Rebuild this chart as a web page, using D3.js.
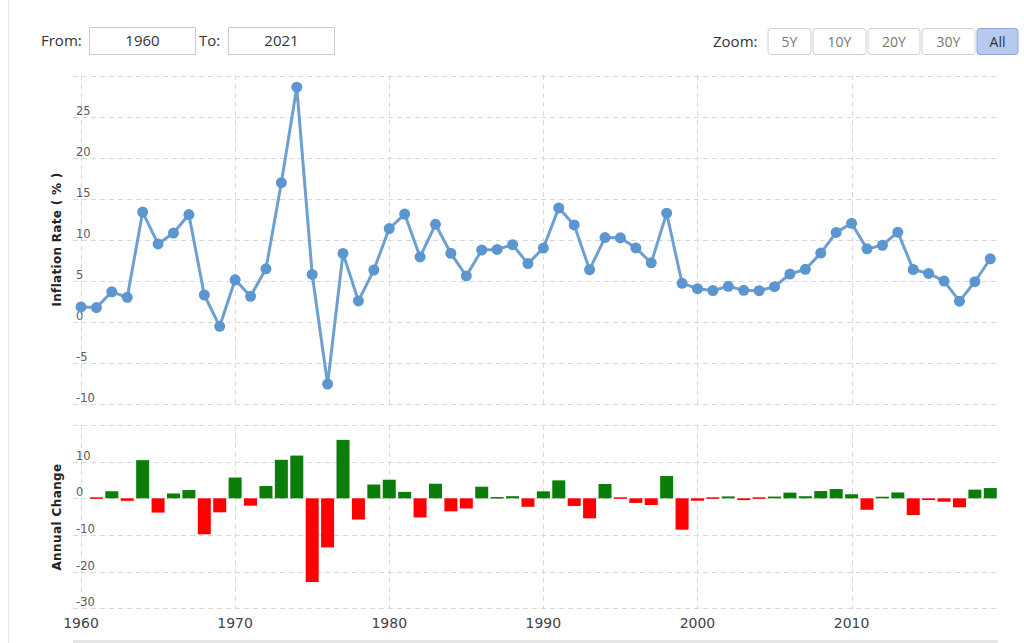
<!DOCTYPE html>
<html>
<head>
<meta charset="utf-8">
<script src="https://cdn.jsdelivr.net/npm/d3@7"></script>
<style>
  body { margin: 0; background: #fff; }
  svg { display: block; }
  .grid line { stroke: #d9d9d9; stroke-dasharray: 5,4; }
  .tick-label { font-family: Verdana, "DejaVu Sans", sans-serif; font-size: 11.5px; fill: #5a5a5a; }
  .x-label { font-family: Verdana, "DejaVu Sans", sans-serif; font-size: 14px; fill: #444; }
  .axis-title { font-family: Verdana, "DejaVu Sans", sans-serif; font-size: 12px; font-weight: bold; fill: #222; }
  .ui { font-family: "Segoe UI", "Open Sans", "Noto Sans", sans-serif; font-size: 15px; fill: #333; }
  .btn { font-family: "Segoe UI", "Open Sans", "Noto Sans", sans-serif; font-size: 14px; fill: #777; }
</style>
</head>
<body>
<svg id="chart" width="1024" height="643"></svg>
<script>
// years shown on the chart
const years = d3.range(1960, 2020);

// inflation rate (%) per year
const inflation = [
  1.78, 1.70, 3.63, 2.95, 13.36, 9.47, 10.80, 13.06, 3.24, -0.58,
  5.09, 3.08, 6.44, 16.94, 28.60, 5.75, -7.63, 8.31, 2.52, 6.28,
  11.35, 13.11, 7.89, 11.87, 8.32, 5.56, 8.73, 8.80, 9.38, 7.07,
  8.97, 13.87, 11.79, 6.33, 10.25, 10.22, 8.98, 7.16, 13.23, 4.67,
  4.01, 3.78, 4.30, 3.81, 3.77, 4.25, 5.80, 6.37, 8.35, 10.88,
  11.99, 8.87, 9.31, 10.91, 6.35, 5.87, 4.94, 2.49, 4.86, 7.66
];

// annual change bars, 1961 onwards
const changeYears = d3.range(1961, 2020);
const annualChange = [
  -0.08, 1.93, -0.68, 10.41, -3.89, 1.33, 2.26, -9.82, -3.82,
  5.67, -2.01, 3.36, 10.50, 11.66, -22.85, -13.38, 15.94, -5.79, 3.76,
  5.07, 1.76, -5.22, 3.98, -3.55, -2.76, 3.17, 0.07, 0.58, -2.31,
  1.90, 4.90, -2.08, -5.46, 3.92, -0.03, -1.24, -1.82, 6.07, -8.56,
  -0.66, -0.23, 0.52, -0.49, -0.04, 0.48, 1.55, 0.57, 1.98, 2.53,
  1.11, -3.12, 0.44, 1.60, -4.56, -0.48, -0.93, -2.45, 2.37, 2.80
];

const topTicks = [-10, -5, 0, 5, 10, 15, 20, 25, 30];
const bottomTicks = [-30, -20, -10, 0, 10, 20];
const xTicks = [1960, 1970, 1980, 1990, 2000, 2010];
const zoomButtons = ["5Y", "10Y", "20Y", "30Y", "All"];

const svg = d3.select("#chart");

const left = 73, right = 998;
const x = d3.scaleLinear().domain([1959.48, 2019.5]).range([left, right]);
const yTop = d3.scaleLinear().domain([-10, 30]).range([403.5, 75.7]);
const yBot = d3.scaleLinear().domain([-30, 20]).range([608.3, 425]);

// faint page border on the left
svg.append("line")
  .attr("x1", 8.5).attr("x2", 8.5).attr("y1", 0).attr("y2", 643)
  .attr("stroke", "#e8e8e8");

// --- top controls ---
const ctrl = svg.append("g");
ctrl.append("text").attr("class", "ui").attr("x", 41).attr("y", 46).text("From:");
ctrl.append("rect").attr("x", 89.5).attr("y", 27.5).attr("width", 106).attr("height", 27)
  .attr("fill", "#fff").attr("stroke", "#ccc");
ctrl.append("text").attr("class", "ui").attr("x", 142.5).attr("y", 46).attr("text-anchor", "middle").text("1960");
ctrl.append("text").attr("class", "ui").attr("x", 199).attr("y", 46).text("To:");
ctrl.append("rect").attr("x", 228.5).attr("y", 27.5).attr("width", 106).attr("height", 27)
  .attr("fill", "#fff").attr("stroke", "#ccc");
ctrl.append("text").attr("class", "ui").attr("x", 281.5).attr("y", 46).attr("text-anchor", "middle").text("2021");

ctrl.append("text").attr("class", "ui").attr("x", 713).attr("y", 47).text("Zoom:");
const btnX = [768, 813, 868, 922, 977];
const btnW = [43, 53, 52, 53, 41];
const btn = ctrl.selectAll("g.btn-g")
  .data(zoomButtons)
  .enter().append("g")
  .attr("class", "btn-g")
  .attr("transform", (d, i) => "translate(" + btnX[i] + ",28.5)");
btn.append("rect")
  .attr("width", (d, i) => btnW[i]).attr("height", 26).attr("rx", 3)
  .attr("fill", d => d === "All" ? "#b7c9ef" : "#fff")
  .attr("stroke", d => d === "All" ? "#8ea7d8" : "#d0d0d0");
btn.append("text")
  .attr("class", "btn")
  .attr("x", (d, i) => btnW[i] / 2).attr("y", 18)
  .attr("text-anchor", "middle")
  .style("fill", d => d === "All" ? "#333" : "#777")
  .text(d => d);

// --- grids ---
function drawGrid(yScale, ticks, yTopPx, yBotPx) {
  const g = svg.append("g").attr("class", "grid");
  g.selectAll("line.h")
    .data(ticks)
    .enter().append("line")
    .attr("x1", left).attr("x2", right)
    .attr("y1", d => Math.round(yScale(d)) + 0.5)
    .attr("y2", d => Math.round(yScale(d)) + 0.5);
  g.selectAll("line.v")
    .data(xTicks)
    .enter().append("line")
    .attr("x1", d => Math.round(x(d)) + 0.5)
    .attr("x2", d => Math.round(x(d)) + 0.5)
    .attr("y1", yTopPx).attr("y2", yBotPx);
  return g;
}
drawGrid(yTop, topTicks, 75, 404);
drawGrid(yBot, bottomTicks, 425, 609);

// y tick labels sit just above their grid line, inside the plot
svg.append("g").selectAll("text")
  .data(topTicks.filter(d => d !== 30))
  .enter().append("text")
  .attr("class", "tick-label")
  .attr("x", 76)
  .attr("y", d => yTop(d) - 2)
  .text(d => d);

svg.append("g").selectAll("text")
  .data(bottomTicks.filter(d => d !== 20))
  .enter().append("text")
  .attr("class", "tick-label")
  .attr("x", 76)
  .attr("y", d => yBot(d) - 2)
  .text(d => d);

// x labels
svg.append("g").selectAll("text")
  .data(xTicks)
  .enter().append("text")
  .attr("class", "x-label")
  .attr("x", d => x(d))
  .attr("y", 628)
  .attr("text-anchor", "middle")
  .text(d => d);

// axis titles
svg.append("text")
  .attr("class", "axis-title")
  .attr("transform", "translate(61," + ((75 + 404) / 2) + ") rotate(-90)")
  .attr("text-anchor", "middle")
  .attr("letter-spacing", "0.3px")
  .text("Inflation Rate ( % )");

svg.append("text")
  .attr("class", "axis-title")
  .attr("transform", "translate(61," + ((425 + 609) / 2) + ") rotate(-90)")
  .attr("text-anchor", "middle")
  .attr("letter-spacing", "0.4px")
  .text("Annual Change");

// --- inflation line ---
const pts = years.map((yr, i) => ({ year: yr, value: inflation[i] }));
const line = d3.line().x(d => x(d.year)).y(d => yTop(d.value));

svg.append("path")
  .datum(pts)
  .attr("d", line)
  .attr("fill", "none")
  .attr("stroke", "#6d9fd0")
  .attr("stroke-width", 3)
  .attr("stroke-linejoin", "round");

svg.append("g").selectAll("circle")
  .data(pts)
  .enter().append("circle")
  .attr("cx", d => x(d.year))
  .attr("cy", d => yTop(d.value))
  .attr("r", 5.5)
  .attr("fill", "#5b96d0");

// --- annual change bars ---
const bars = changeYears.map((yr, i) => ({ year: yr, value: annualChange[i] }));
const barW = 13;
svg.append("g").selectAll("rect")
  .data(bars)
  .enter().append("rect")
  .attr("x", d => x(d.year) - barW / 2)
  .attr("width", barW)
  .attr("y", d => Math.min(yBot(d.value), yBot(0)) - (Math.abs(d.value) < 0.3 ? 1 : 0))
  .attr("height", d => Math.max(Math.abs(yBot(d.value) - yBot(0)), 1.5))
  .attr("fill", d => d.value >= 0 ? "#0a7d0a" : "#f00");

// navigator strip at the very bottom
svg.append("rect")
  .attr("x", left).attr("y", 640).attr("width", right - left).attr("height", 3)
  .attr("fill", "#e6e6e6");
</script>
</body>
</html>
